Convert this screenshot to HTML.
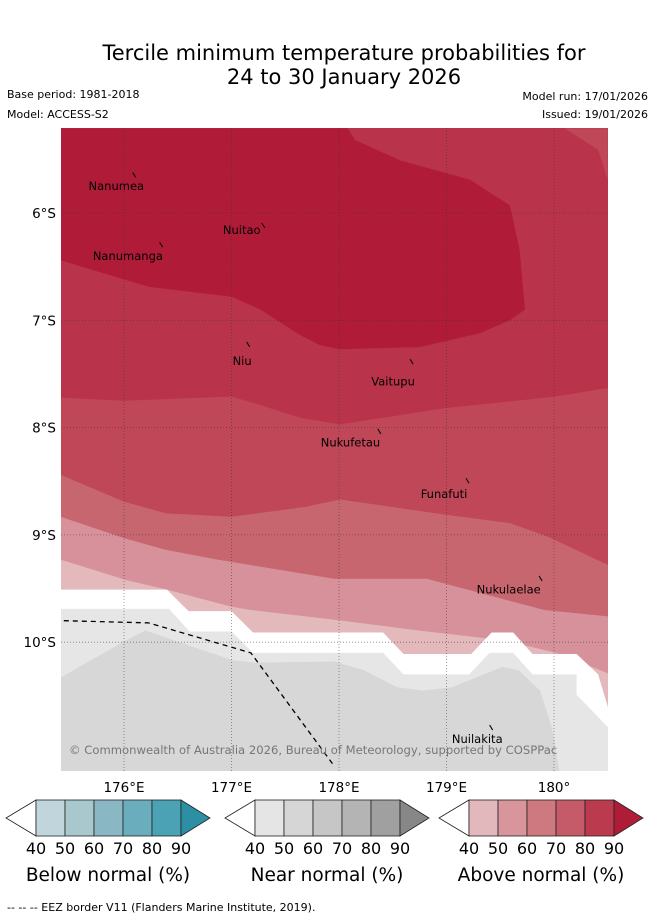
<!DOCTYPE html>
<html><head><meta charset="utf-8"><style>
html,body{margin:0;padding:0;background:#fff;}
svg{display:block;font-family:"DejaVu Sans","Liberation Sans",sans-serif;}
</style></head><body>
<svg id="chart" width="655" height="919" viewBox="0 0 655 919">
<text x="344" y="60" font-size="21" text-anchor="middle">Tercile minimum temperature probabilities for</text>
<text x="344" y="84" font-size="21" text-anchor="middle">24 to 30 January 2026</text>
<text x="7" y="98" font-size="11">Base period: 1981-2018</text>
<text x="7" y="118" font-size="11">Model: ACCESS-S2</text>
<text x="648" y="100" font-size="11" text-anchor="end">Model run: 17/01/2026</text>
<text x="648" y="118" font-size="11" text-anchor="end">Issued: 19/01/2026</text>
<defs><clipPath id="mapclip"><rect x="61" y="128" width="547" height="643"/></clipPath></defs>
<g id="map" clip-path="url(#mapclip)"></g>
<g id="grid"></g>
<g id="islands"></g>
<text x="69" y="754" font-size="11.6" fill="#777">© Commonwealth of Australia 2026, Bureau of Meteorology, supported by COSPPac</text>
<g id="axes"></g>
<g id="cbars"></g>
<text x="7" y="911" font-size="11">--  --  -- EEZ border V11 (Flanders Marine Institute, 2019).</text>
</svg>
<script>
const lonTicks=[176,177,178,179,180];
const lonLabels=["176°E","177°E","178°E","179°E","180°"];
const latTicks=[6,7,8,9,10];
const latLabels=["6°S","7°S","8°S","9°S","10°S"];
const cbTicks=["40","50","60","70","80","90"];
const cbTitles=["Below normal (%)","Near normal (%)","Above normal (%)"];
const belowColors=["#c0d6dc","#a8c8cd","#89b7c3","#6aaebd","#4aa2b4","#2c8fa3"];
const nearColors=["#e5e5e5","#d6d6d6","#c6c6c6","#b4b4b4","#a0a0a0","#878787"];
const aboveColors=["#e2b8bd","#d8959b","#ce7880","#c55a68","#bc3a4d","#b01c38"];
// contour boundaries [lon, lat(°S)]
const darkRegion=[[175.41,5.21],[175.41,6.44],[176,6.62],[176.24,6.69],[177,6.78],[177.27,6.9],[177.64,7.14],[177.82,7.23],[178.01,7.27],[178.75,7.25],[179.31,7.12],[179.59,7.0],[179.73,6.9],[179.68,6.34],[179.59,5.93],[179.22,5.69],[178.57,5.51],[178.15,5.32],[178.08,5.21]];
const cornerRegion=[[180.1,5.21],[180.41,5.41],[180.5,5.69],[180.5,5.21]];
const b2=[[175.41,7.72],[176,7.75],[177,7.71],[177.27,7.79],[177.64,7.91],[178.01,7.97],[178.98,7.82],[180.02,7.71],[180.5,7.63]];
const b3=[[175.41,8.44],[176,8.69],[176.39,8.8],[177,8.83],[177.68,8.74],[178.01,8.67],[178.98,8.81],[179.59,8.89],[179.95,9.02],[180.5,9.28]];
const b4=[[175.41,8.83],[176,9.03],[176.39,9.14],[176.87,9.23],[177.96,9.41],[178.82,9.41],[179.91,9.7],[180.5,9.76]];
const b5=[[175.41,9.23],[176.02,9.42],[176.4,9.51],[177,9.67],[177.18,9.7],[177.96,9.79],[178.73,9.89],[179.52,9.98],[180.02,10.1],[180.5,10.29]];
const whiteTop=[[175.41,9.51],[176.4,9.51],[176.6,9.71],[177,9.71],[177.2,9.91],[178.41,9.91],[178.6,10.11],[179.23,10.11],[179.42,9.91],[179.62,9.91],[179.8,10.11],[180.21,10.11],[180.41,10.3],[180.5,10.6]];
const lightTop=[[175.41,9.69],[176.42,9.69],[176.61,9.9],[177,9.9],[177.2,10.1],[178.41,10.1],[178.6,10.3],[179.21,10.3],[179.4,10.1],[179.62,10.1],[179.8,10.3],[180.21,10.3],[180.21,10.49],[180.5,10.79]];
const greyTop=[[175.41,10.33],[176.02,9.98],[176.2,9.89],[176.63,10.04],[177.02,10.17],[177.22,10.19],[177.96,10.18],[178.23,10.26],[178.54,10.42],[178.78,10.45],[179.05,10.42],[179.52,10.23],[179.67,10.26],[179.87,10.45],[179.98,10.79],[180.05,11.2]];
const eez=[[175.44,9.8],[176.23,9.82],[176.4,9.87],[177.18,10.1],[177.96,11.16]];
const islandNames=["Nanumea","Nuitao","Nanumanga","Niu","Vaitupu","Nukufetau","Funafuti","Nukulaelae","Nuilakita"];
const islandLon=[176.1,177.3,176.35,177.16,178.68,178.38,179.2,179.88,179.42];
const islandLat=[5.65,6.12,6.3,7.23,7.39,8.04,8.5,9.41,10.8];
const labelLon=[175.67,176.92,175.71,177.01,178.3,177.83,178.76,179.28,179.05];
const labelLat=[5.75,6.16,6.4,7.38,7.57,8.14,8.62,9.51,10.9];

const NS="http://www.w3.org/2000/svg";
function px(lon){return 124+(lon-176)*107.5;}
function py(lat){return 213+(lat-6)*107.3;}
function mk(tag,attrs,parent){const e=document.createElementNS(NS,tag);for(const k in attrs)e.setAttribute(k,attrs[k]);parent.appendChild(e);return e;}
const map=document.getElementById('map');
function pts(arr){return arr.map(p=>px(p[0]).toFixed(1)+","+py(p[1]).toFixed(1)).join(" ");}
function below(arr){return pts(arr)+" "+px(180.6)+","+py(11.3)+" "+px(175.3)+","+py(11.3);}
let r=mk('rect',{x:61,y:128,width:547,height:643,fill:'#b9344a'},map);


const layers=[
 [pts(darkRegion),'#b01c38','band-above-90'],
 [pts(cornerRegion),'#bf4757','band-corner'],
 [below(b2),'#bf4757','band-70-80'],
 [below(b3),'#c86670','band-60-70'],
 [below(b4),'#d7919a','band-50-60'],
 [below(b5),'#e3b9bc','band-40-50'],
 [below(whiteTop),'#ffffff','band-no-signal'],
 [below(lightTop),'#e6e6e6','band-near-40-50'],
 [below(greyTop),'#d7d7d7','band-near-50-60']];
layers.forEach(l=>{const p=mk('polygon',{points:l[0],fill:l[1]},map);

});
const ez=mk('polyline',{points:pts(eez),fill:'none',stroke:'#000','stroke-width':1.3,'stroke-dasharray':'5,4'},map);



const grid=document.getElementById('grid');
const axes=document.getElementById('axes');
lonTicks.forEach((v,i)=>{const l=mk('line',{x1:px(v),x2:px(v),y1:128,y2:771,stroke:'#333','stroke-width':0.8,'stroke-dasharray':'1,2','stroke-opacity':0.6},grid);


const t=mk('text',{x:px(v),y:792,'font-size':13.5,'text-anchor':'middle'},axes);t.textContent=lonLabels[i];

});
latTicks.forEach((v,i)=>{const l=mk('line',{x1:61,x2:608,y1:py(v),y2:py(v),stroke:'#333','stroke-width':0.8,'stroke-dasharray':'1,2','stroke-opacity':0.6},grid);


const t=mk('text',{x:56,y:py(v)+5,'font-size':13.5,'text-anchor':'end'},axes);t.textContent=latLabels[i];

});

const isl=document.getElementById('islands');
islandNames.forEach((n,i)=>{const x=px(islandLon[i]),y=py(islandLat[i]);
const m=mk('line',{x1:x-2,y1:y-3,x2:x+1,y2:y+2,stroke:'#111','stroke-width':1.2},isl);


const t=mk('text',{x:px(labelLon[i]),y:py(labelLat[i])+4,'font-size':11.5},isl);t.textContent=n;

});

const cb=document.getElementById('cbars');
const sets=[[belowColors,6],[nearColors,225],[aboveColors,439]];
sets.forEach((s,k)=>{const x0=s[1]+30,w=29,y0=800,h=36;
const g=mk('g',{},cb);


const lt=mk('polygon',{points:`${s[1]},${y0+h/2} ${x0},${y0} ${x0},${y0+h}`,fill:'#fff',stroke:'#222','stroke-width':0.8},g);


for(let i=0;i<5;i++){const c=mk('rect',{x:x0+i*w,y:y0,width:w,height:h,fill:s[0][i],stroke:'#222','stroke-width':0.8},g);

}
const xe=x0+5*w;
const rt=mk('polygon',{points:`${xe},${y0} ${xe+29},${y0+h/2} ${xe},${y0+h}`,fill:s[0][5],stroke:'#222','stroke-width':0.8},g);


cbTicks.forEach((tk,i)=>{const t=mk('text',{x:x0+i*w,y:854,'font-size':16,'text-anchor':'middle'},g);t.textContent=tk;

});
const tt=mk('text',{x:x0+72,y:881,'font-size':18.5,'text-anchor':'middle'},g);tt.textContent=cbTitles[k];

});
</script>
</body></html>
